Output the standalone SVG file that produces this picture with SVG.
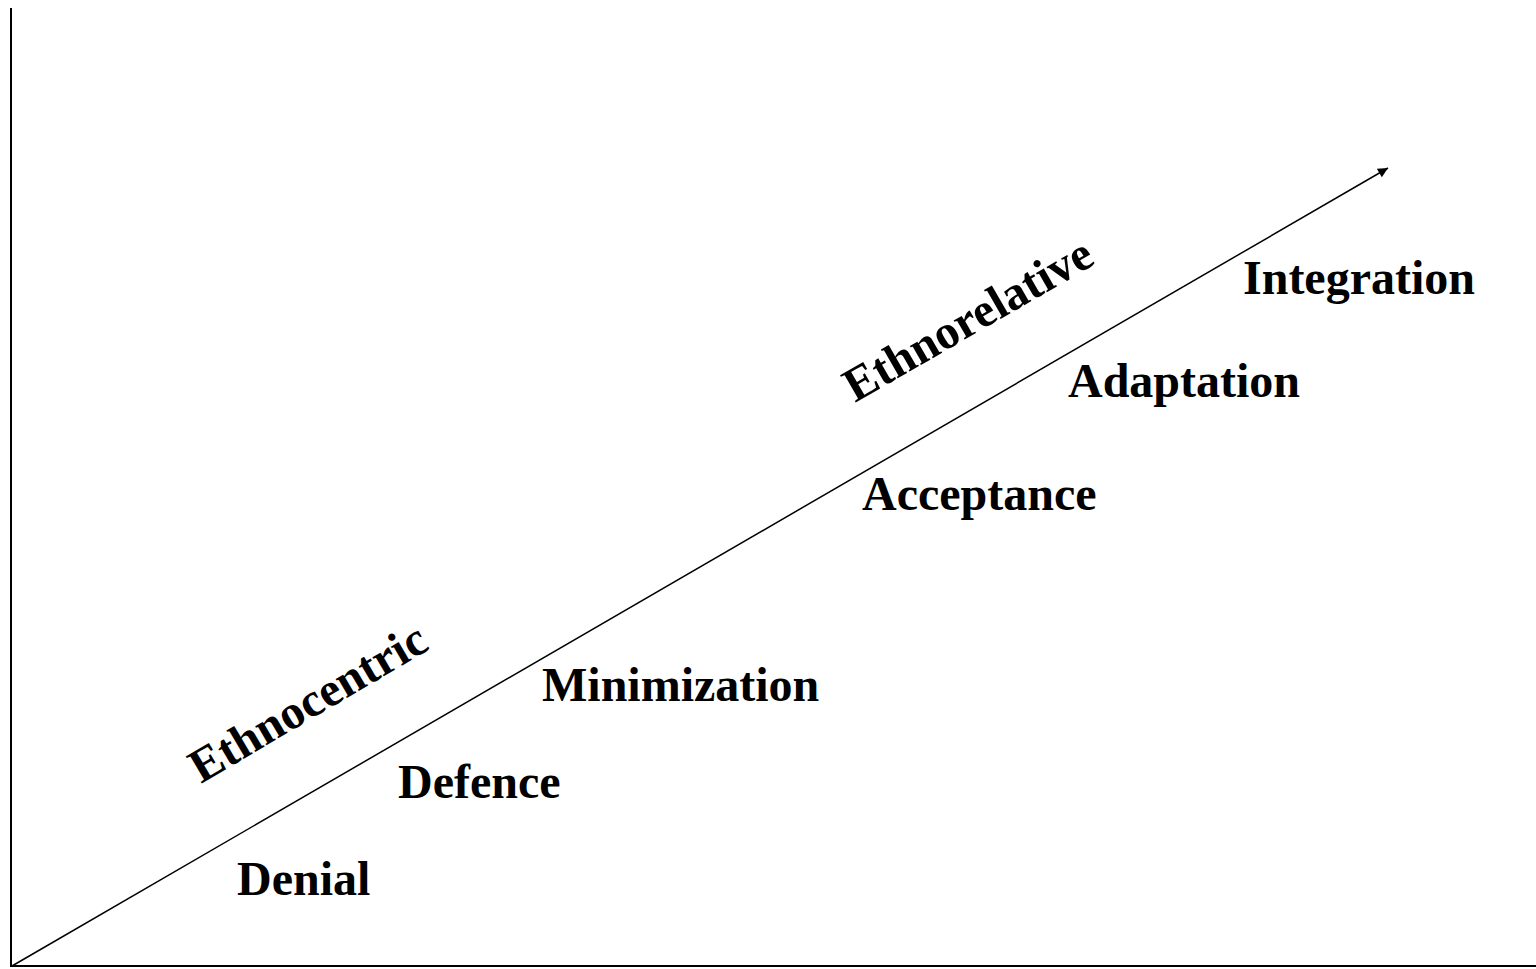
<svg xmlns="http://www.w3.org/2000/svg" width="1536" height="969" viewBox="0 0 1536 969">
<defs>
<marker id="arr" viewBox="0 0 10 10" refX="10" refY="5" markerWidth="11" markerHeight="10" markerUnits="userSpaceOnUse" orient="auto">
<path d="M0,0 L10,5 L0,10 z" fill="#000"/>
</marker>
<style>
.t{font-family:"Liberation Serif","Times New Roman",serif;font-weight:bold;font-size:48px;fill:#000}
.ax{stroke:#000;stroke-width:2;fill:none}
</style>
</defs>
<rect width="1536" height="969" fill="#fff"/>
<g id="connectors">
<line class="ax" x1="11" y1="8" x2="11" y2="967"/>
<line class="ax" x1="10" y1="966" x2="1536" y2="966"/>
<line x1="12" y1="966" x2="1388" y2="168" stroke="#000" stroke-width="1.5" marker-end="url(#arr)"/>
</g>
<g id="ethnocentric"><text class="t" transform="translate(201,784) rotate(-30.5)">Ethnocentric</text></g>
<g id="ethnorelative"><text class="t" transform="translate(855,403) rotate(-30)">Ethnorelative</text></g>
<g id="denial"><text class="t" x="237" y="895">Denial</text></g>
<g id="defence"><text class="t" x="398" y="798">Defence</text></g>
<g id="minimization"><text class="t" x="542" y="701">Minimization</text></g>
<g id="acceptance"><text class="t" x="862" y="510">Acceptance</text></g>
<g id="adaptation"><text class="t" x="1068" y="397">Adaptation</text></g>
<g id="integration"><text class="t" x="1243" y="294">Integration</text></g>
</svg>
